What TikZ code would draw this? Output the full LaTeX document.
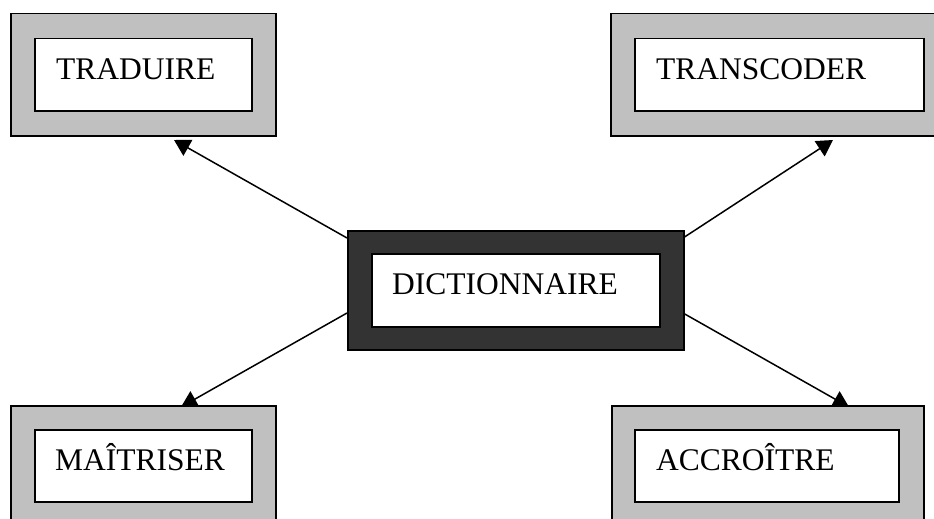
\documentclass[tikz,border=0pt]{standalone}
\usepackage{fontspec}
\setmainfont{Liberation Serif}
\usetikzlibrary{arrows.meta}
\definecolor{boxgray}{HTML}{C0C0C0}
\definecolor{boxdark}{HTML}{333333}
\begin{document}
\begin{tikzpicture}[x=1pt,y=-1pt,
  outerbox/.style={draw=black, line width=1.5pt, fill=boxgray, minimum width=#1, minimum height=122pt, inner sep=0pt, anchor=north west},
  darkbox/.style={draw=black, line width=1.5pt, fill=boxdark, minimum width=336pt, minimum height=119pt, inner sep=0pt, anchor=north west},
  innerbox/.style={draw=black, line width=1.5pt, fill=white, minimum width=#1, minimum height=72pt, inner sep=0pt, anchor=north west},
  label/.style={anchor=base west, inner sep=0pt, font=\fontsize{31.5}{36}\selectfont},
  link/.style={line width=1.5pt, -{Triangle[length=16pt,width=18pt]}}]
\useasboundingbox (0,0) rectangle (934,519);
\clip (0,0) rectangle (934,519);
% arrow coordinates
\coordinate (s1) at (347,238);
\coordinate (s2) at (683,238);
\coordinate (s3) at (347,313);
\coordinate (s4) at (683,313);
\coordinate (e1) at (174,140);
\coordinate (e2) at (833,140);
\coordinate (e3) at (181,407);
\coordinate (e4) at (849,407);
\draw[link] (s1) -- (e1);
\draw[link] (s2) -- (e2);
\draw[link] (s3) -- (e3);
\draw[link] (s4) -- (e4);
% boxes
\node[outerbox=265pt] (o1) at (10,13) {};
\node[innerbox=217pt] (i1) at (34,38) {};
\node[outerbox=324pt] (o2) at (610,13) {};
\node[innerbox=289pt] (i2) at (634,38) {};
\node[outerbox=265pt] (o3) at (10,405) {};
\node[innerbox=217pt] (i3) at (34,429) {};
\node[outerbox=312pt] (o4) at (611,405) {};
\node[innerbox=264pt] (i4) at (634,429) {};
\node[darkbox] (o0) at (347,230) {};
\node[innerbox=288pt, minimum height=73pt] (i0) at (371,253) {};
% labels
\node[label] (t1) at (56,79) {TRADUIRE};
\node[label] (t2) at (656,79) {TRANSCODER};
\node[label] (t0) at (392,294) {DICTIONNAIRE};
\node[label] (t3) at (55,470) {MAÎTRISER};
\node[label] (t4) at (656,470) {ACCROÎTRE};
\end{tikzpicture}
\end{document}
